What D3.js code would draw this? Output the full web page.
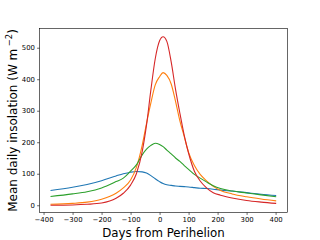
<!DOCTYPE html>
<html>
<head>
<meta charset="utf-8">
<script src="https://cdn.jsdelivr.net/npm/d3@7"></script>
<style>
  body { margin: 0; background: #fff; }
  svg { display: block; font-family: 'DejaVu Sans', sans-serif; }
</style>
</head>
<body>
<svg></svg>
<script>
// days from perihelion, insolation of four bodies (W m^-2)
const days = [-376, -300, -250, -200, -150, -125, -100, -80, -60, -45, -30, -15, 0, 12, 25, 40, 55, 70, 85, 100, 120, 140, 160, 185, 210, 250, 300, 350, 402];
const blueSeries = [47, 57, 66, 78, 93, 100, 105, 107, 106, 102, 94, 84, 75, 69, 65, 63, 61, 60, 59, 58, 56, 54, 53, 51, 48, 45, 40, 35, 31];
const orangeSeries = [3, 6, 10, 19, 38, 55, 80, 120, 190, 260, 325, 382, 408, 421, 412, 385, 330, 268, 218, 168, 126, 98, 79, 60, 47, 36, 27, 20, 14];
const greenSeries = [28, 36, 43, 55, 75, 86, 108, 128, 160, 178, 190, 197, 193, 186, 175, 163, 150, 139, 126, 114, 98, 86, 75, 62, 53, 45, 39, 33, 27];
const redSeries = [0, 1, 3, 7, 22, 38, 64, 100, 170, 255, 366, 465, 522, 535, 520, 455, 368, 292, 222, 165, 108, 77, 57, 40, 32, 23, 15, 10, 6];
const xTicks = [-400, -300, -200, -100, 0, 100, 200, 300, 400];
const yTicks = [0, 100, 200, 300, 400, 500];

const series = [
  { values: blueSeries, color: '#1f77b4' },
  { values: orangeSeries, color: '#ff7f0e' },
  { values: greenSeries, color: '#2ca02c' },
  { values: redSeries, color: '#d62728' }
];

const width = 320;
const height = 240;
const plotLeft = 39.5, plotRight = 287.5, plotTop = 28.5, plotBottom = 212.5;

const xScale = d3.scaleLinear()
                 .domain([-414, 441])
                 .range([plotLeft, plotRight]);

const yScale = d3.scaleLinear()
                 .domain([-23, 561])
                 .range([plotBottom, plotTop]);

const svg = d3.select('svg')
              .attr('width', width)
              .attr('height', height);

svg.append('rect')
    .attr('width', width)
    .attr('height', height)
    .attr('fill', '#fff');

const line = d3.line()
               .x((d, i) => xScale(days[i]))
               .y((d) => yScale(d))
               .curve(d3.curveMonotoneX);

svg.append('g')
  .selectAll('path')
  .data(series)
  .enter()
  .append('path')
    .attr('d', (d) => line(d.values))
    .attr('fill', 'none')
    .attr('stroke', (d) => d.color)
    .attr('stroke-width', 1.1);

const xAxis = d3.axisBottom(xScale)
                .tickValues(xTicks)
                .tickSize(2.4)
                .tickPadding(2.2)
                .tickSizeOuter(0)
                .tickFormat((d) => d < 0 ? '\u2212' + Math.abs(d) : d);

const yAxis = d3.axisLeft(yScale)
                .tickValues(yTicks)
                .tickSize(2.4)
                .tickPadding(2.2)
                .tickSizeOuter(0);

const gx = svg.append('g')
    .attr('transform', `translate(0, ${plotBottom})`)
    .call(xAxis);

const gy = svg.append('g')
    .attr('transform', `translate(${plotLeft}, 0)`)
    .call(yAxis);

[gx, gy].forEach((g) => {
  g.select('.domain').remove();
  g.selectAll('line').attr('stroke', '#000').attr('stroke-width', 0.6);
  g.selectAll('text')
    .attr('fill', '#000')
    .style('font-size', '6.9px')
    .style('font-family', 'DejaVu Sans');
});

// frame
svg.append('rect')
    .attr('x', plotLeft)
    .attr('y', plotTop)
    .attr('width', plotRight - plotLeft)
    .attr('height', plotBottom - plotTop)
    .attr('fill', 'none')
    .attr('stroke', '#000')
    .attr('stroke-width', 0.6);

svg.append('text')
    .text('Days from Perihelion')
    .attr('x', (plotLeft + plotRight) / 2)
    .attr('y', 236.5)
    .style('text-anchor', 'middle')
    .style('font-size', '11.8px');

const ylabel = svg.append('text')
    .attr('transform', `translate(17, ${(plotTop + plotBottom) / 2}) rotate(-90)`)
    .style('text-anchor', 'middle')
    .style('font-size', '12px');

ylabel.append('tspan').text('Mean daily insolation (W m');
ylabel.append('tspan')
    .text('\u22122')
    .attr('dx', 2.5)
    .attr('dy', -4.8)
    .style('font-size', '8.4px');
ylabel.append('tspan').text(')').attr('dy', 4.8);
</script>
</body>
</html>
